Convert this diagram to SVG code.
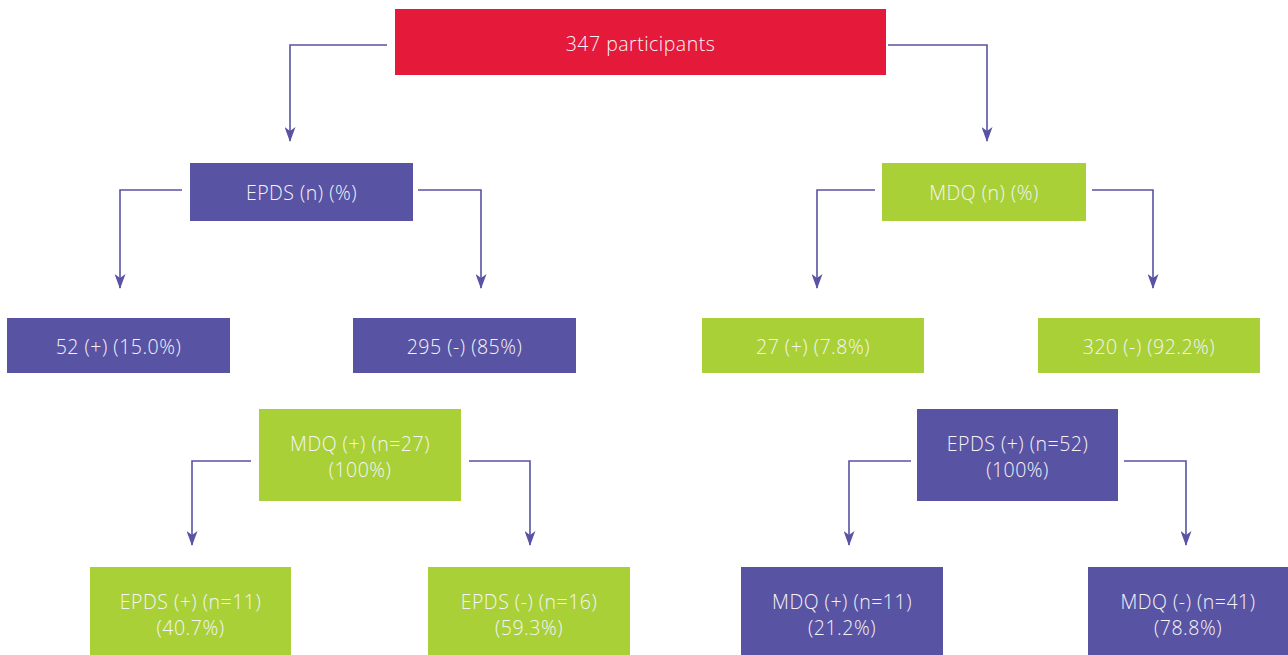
<svg xmlns="http://www.w3.org/2000/svg" width="1288" height="655" viewBox="0 0 1288 655">
<style>
.p{fill:#5953A3}.g{fill:#A9D037}.r{fill:#E51A3A}
text{font-family:"Open Sans","Liberation Sans",sans-serif;font-size:19.5px;font-weight:300;fill:#F4F4F8;text-anchor:middle;dominant-baseline:central;letter-spacing:0.5px}
.c path{fill:none;stroke:#5953A3;stroke-width:1.6;marker-end:url(#ah)}
</style>
<defs>
<marker id="ah" viewBox="0 0 15 11" markerWidth="15" markerHeight="11" refX="14" refY="5.5" orient="auto" markerUnits="userSpaceOnUse">
<path d="M0,0 L15,5.5 L0,11 L4,5.5 z" fill="#5953A3"/>
</marker>
</defs>
<rect width="1288" height="655" fill="#fff"/>
<g class="c" id="connectors">
<path d="M387,45 H290 V141"/>
<path d="M888,45 H987 V141"/>
<path d="M182,190 H120 V288"/>
<path d="M418,190 H481 V288"/>
<path d="M875,190 H817 V288"/>
<path d="M1092,190 H1153 V288"/>
<path d="M251,461 H192 V545"/>
<path d="M469,461 H530 V545"/>
<path d="M911,461 H849 V545"/>
<path d="M1124,461 H1186 V545"/>
</g>
<g id="n-total"><rect class="r" x="395" y="9" width="491" height="66"/><text x="640.5" y="43">347 participants</text></g>
<g id="n-epds"><rect class="p" x="190" y="163" width="223" height="58"/><text x="301.5" y="192">EPDS (n) (%)</text></g>
<g id="n-mdq"><rect class="g" x="882" y="163" width="204" height="58"/><text x="984" y="192">MDQ (n) (%)</text></g>
<g id="n-epds-pos"><rect class="p" x="7" y="318" width="223" height="55"/><text x="118.5" y="346">52 (+) (15.0%)</text></g>
<g id="n-epds-neg"><rect class="p" x="353" y="318" width="223" height="55"/><text x="464.5" y="346">295 (-) (85%)</text></g>
<g id="n-mdq-pos"><rect class="g" x="702" y="318" width="222" height="55"/><text x="813" y="346">27 (+) (7.8%)</text></g>
<g id="n-mdq-neg"><rect class="g" x="1038" y="318" width="222" height="55"/><text x="1149" y="346">320 (-) (92.2%)</text></g>
<g id="n-mdq27"><rect class="g" x="259" y="409" width="202" height="92"/><text x="360" y="443">MDQ (+) (n=27)</text><text x="360" y="469">(100%)</text></g>
<g id="n-epds52"><rect class="p" x="917" y="409" width="201" height="92"/><text x="1017.5" y="443">EPDS (+) (n=52)</text><text x="1017.5" y="469">(100%)</text></g>
<g id="n-epds11"><rect class="g" x="90" y="567" width="201" height="88"/><text x="190.5" y="601">EPDS (+) (n=11)</text><text x="190.5" y="627">(40.7%)</text></g>
<g id="n-epds16"><rect class="g" x="428" y="567" width="202" height="88"/><text x="529" y="601">EPDS (-) (n=16)</text><text x="529" y="627">(59.3%)</text></g>
<g id="n-mdq11"><rect class="p" x="741" y="567" width="202" height="88"/><text x="842" y="601">MDQ (+) (n=11)</text><text x="842" y="627">(21.2%)</text></g>
<g id="n-mdq41"><rect class="p" x="1088" y="567" width="200" height="88"/><text x="1188" y="601">MDQ (-) (n=41)</text><text x="1188" y="627">(78.8%)</text></g>
</svg>
